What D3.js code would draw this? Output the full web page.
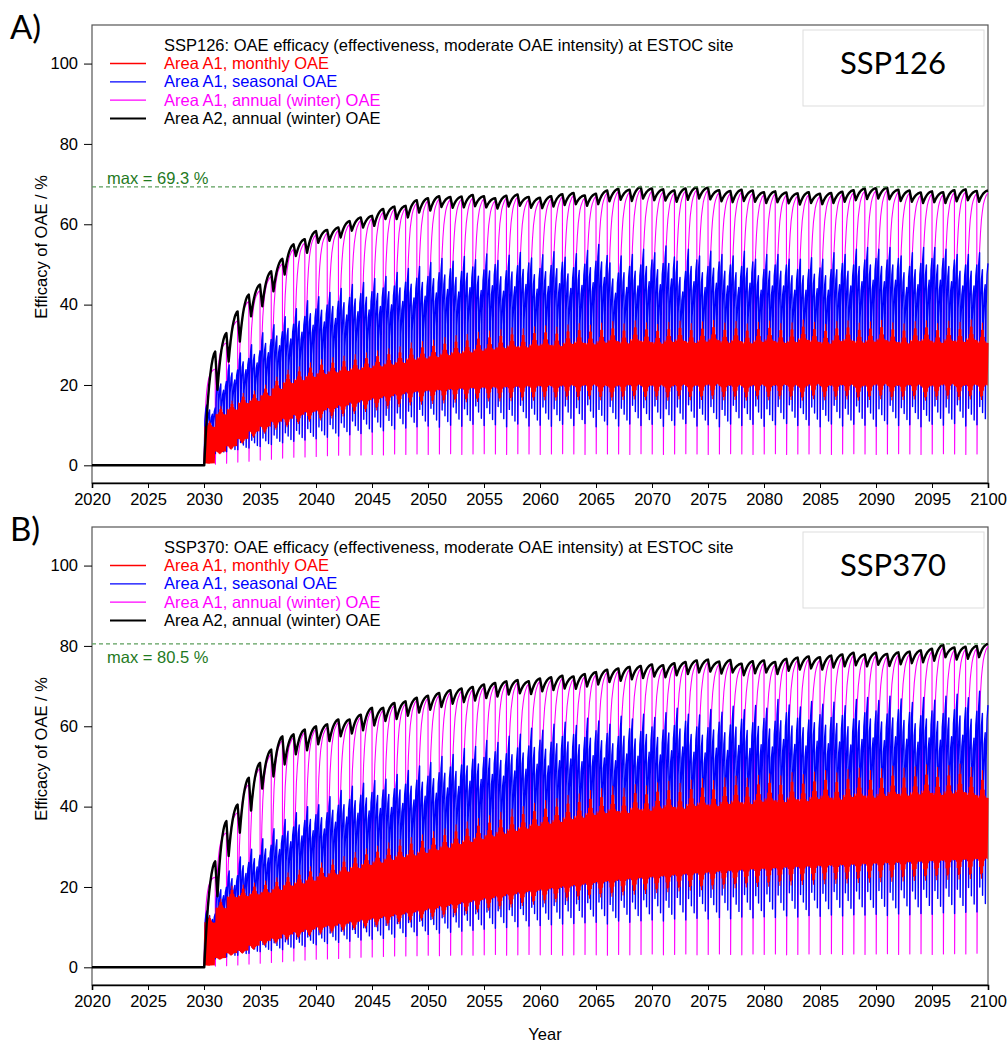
<!DOCTYPE html>
<html>
<head>
<meta charset="utf-8">
<script src="https://cdn.jsdelivr.net/npm/d3@7"></script>
<style>
  body { margin: 0; background: #fff; }
  text { font-family: "Liberation Sans", Arial, sans-serif; }
</style>
</head>
<body>
<svg id="chart" width="1007" height="1043"></svg>
<script>
// ---- data ----
const FIRST_CYCLE = 2030; // first OAE application, one entry per year 2030..2099 below
const X_TICKS = [2020, 2025, 2030, 2035, 2040, 2045, 2050, 2055, 2060, 2065, 2070, 2075, 2080, 2085, 2090, 2095, 2100];
const Y_TICKS = [0, 20, 40, 60, 80, 100];

const LEGEND_LABELS = ["Area A1, monthly OAE", "Area A1, seasonal OAE", "Area A1, annual (winter) OAE", "Area A2, annual (winter) OAE"];
const TITLES = [
  "SSP126: OAE efficacy (effectiveness, moderate OAE intensity) at ESTOC site",
  "SSP370: OAE efficacy (effectiveness, moderate OAE intensity) at ESTOC site",
];
const SCENARIOS = ["SSP126", "SSP370"];
const PANEL_TAGS = ["A)", "B)"];
const MAX_VALUES = [69.3, 80.5];

// shape of one cycle (fraction of trough -> peak reached, per month after an addition)
const RISE = [0, 0.45, 0.66, 0.78, 0.85, 0.9, 0.93, 0.955, 0.97, 0.98, 0.99, 0.995, 1];
// area A2 recovers more slowly, after a short decline
const A2_RISE = [0, 0.22, 0.41, 0.57, 0.7, 0.8, 0.88, 0.94, 0.98, 1];
const Q_RISE = [0, 0.72, 0.93, 1];
// seasonal OAE: 4 additions per year, relative top / bottom of each quarter
const BLUE_Q_TOP = [1, 0.92, 0.85, 0.95];
const BLUE_Q_BOT = [1, 1.45, 1.3, 1.15];
// monthly OAE: relative top / bottom of the band through the year
const RED_M_TOP = [0.87, 0.86, 0.87, 0.9, 0.95, 1, 0.95, 0.9, 0.87, 0.86, 0.86, 0.86];
const RED_M_BOT = [1.22, 1.22, 1.2, 1.13, 1.05, 1, 1.06, 1.14, 1.2, 1.22, 1.23, 1.22];

// ---- SSP126 ----
const A2_PEAK_126 = [28.3,32.9,38.3,42.5,45.0,48.3,51.4,55.0,56.3,58.3,58.6,59.2,60.8,61.7,62.1,63.8,64.4,64.6,66.0,66.5,67.0,66.8,66.9,67.3,67.0,66.5,67.1,67.4,66.8,66.6,67.0,67.5,67.8,67.2,67.6,68.4,68.8,68.6,69.3,68.9,68.7,68.4,68.9,69.2,69.1,68.5,68.3,68.6,68.4,68.0,68.2,67.9,67.7,68.0,67.6,67.8,68.1,68.5,68.9,69.0,69.1,68.6,68.4,67.9,68.2,68.0,68.5,68.7,68.3,68.4];
const A2_LOW_126 = [0,18.8,25.8,30.8,37.1,39.6,43.3,47.5,52.1,52.9,55.4,55.9,56.7,58.4,59.2,59.6,61.3,61.3,61.7,62.9,63.4,64.3,64.1,64.2,64.5,64.2,63.9,64.4,64.6,64.1,64.0,64.4,64.8,65.0,64.6,65.0,65.7,66.1,65.8,66.4,66.0,65.9,65.6,66.1,66.4,66.2,65.7,65.5,65.8,65.6,65.3,65.5,65.2,64.9,65.3,65.0,65.3,65.6,66.0,66.3,66.4,66.2,65.8,65.6,65.3,65.5,65.3,65.7,66.0,65.6];
const ANN_PEAK_126 = [24.0,30.5,36.0,40.8,43.5,47.0,50.2,53.8,55.4,57.4,57.8,58.5,60.0,61.0,61.5,63.0,63.8,64.0,65.3,65.9,66.3,66.2,66.3,66.6,66.4,65.9,66.5,66.8,66.2,66.0,66.4,66.9,67.2,66.6,67.0,67.8,68.2,68.0,68.7,68.3,68.1,67.8,68.3,68.6,68.5,67.9,67.7,68.0,67.8,67.4,67.6,67.3,67.1,67.4,67.0,67.2,67.5,67.9,68.3,68.4,68.5,68.0,67.8,67.3,67.6,67.4,67.9,68.1,67.7,67.8];
const ANN_LOW_126 = [0,0.3,0.5,0.8,1.0,1.3,1.5,1.8,2.0,2.1,2.2,2.4,2.5,2.5,2.6,2.7,2.6,2.8,2.7,2.8,2.7,2.8,2.9,2.7,2.8,2.9,2.8,2.7,2.9,2.8,2.7,2.8,2.9,2.8,2.7,2.9,2.8,2.8,2.7,2.9,2.8,2.7,2.8,2.9,2.8,2.7,2.8,2.9,2.8,2.7,2.8,2.9,2.7,2.8,2.8,2.9,2.7,2.8,2.9,2.8,2.7,2.8,2.9,2.8,2.7,2.8,2.9,2.8,2.7,2.8];
const SEAS_HI_126 = [15,22,25,28,30,33,35,37,39,41,42,43,44,45,45.5,46.5,47,48,49,49.5,50.5,51.5,50.8,52.0,51.2,52.6,51.0,52.3,53.0,51.6,52.4,53.2,51.8,52.7,53.5,55.0,50.4,52.1,52.5,53.8,52.9,54.6,50.8,53.8,52.1,53.3,52.5,52.1,53.3,51.3,52.5,52.5,51.3,51.3,51.7,51.3,52.9,52.5,53.8,54.2,53.8,54.2,52.1,52.9,54.2,54.2,53.8,52.5,52.5,52.9];
const SEAS_LO_126 = [1.5,2.9,3.4,3.9,4.3,4.7,5.2,5.6,6.0,6.3,6.6,7.0,7.3,7.6,7.9,8.3,8.6,9.0,9.3,9.6,9.8,9.5,10.0,9.7,10.2,9.9,10.1,9.6,10.3,9.8,10.0,9.7,10.2,9.9,10.4,9.6,10.1,9.8,10.3,9.9,10.2,9.7,10.0,10.4,9.8,10.1,9.6,10.3,9.9,10.2,9.7,10.1,10.4,9.9,10.0,9.6,10.3,9.8,10.2,10.0,9.7,10.3,9.9,10.1,9.6,10.2,10.0,10.4,9.8,10.1];
const MON_HI_126 = [11,14.6,16,17.9,18.5,20,22,23.7,24.5,25.5,26.3,26.8,27.2,27.6,28.0,28.5,29,29.5,30.5,30.8,31.2,31.8,32.3,32.6,33.1,33.4,33.8,34.2,34.0,34.5,34.7,34.4,35.0,35.3,34.9,35.4,35.8,35.2,36.0,35.5,35.1,35.6,35.9,35.3,35.7,36.1,35.4,35.8,35.2,35.6,35.9,35.3,35.5,36.2,35.6,35.1,35.8,36.0,35.4,35.7,36.1,35.5,35.2,35.8,36.0,35.3,35.9,35.6,36.2,35.4];
const MON_LO_126 = [0.5,2.9,4.0,5.5,7.0,8.0,9.0,9.6,10.4,11.0,11.3,11.8,12.3,12.9,13.4,13.8,14.2,14.6,15.0,15.2,15.4,15.5,15.7,15.8,15.9,16.0,16.0,16.1,16.2,16.2,16.3,16.2,16.4,16.3,16.5,16.3,16.2,16.4,16.5,16.3,16.4,16.2,16.5,16.3,16.4,16.6,16.3,16.4,16.2,16.5,16.3,16.5,16.4,16.2,16.6,16.3,16.4,16.5,16.2,16.4,16.6,16.3,16.4,16.5,16.2,16.4,16.6,16.3,16.5,16.4];

// ---- SSP370 ----
const A2_PEAK_370 = [26.4,36.4,40.5,47.2,50.9,54.2,57.5,58.0,59.2,60.0,60.5,61.7,61.7,62.9,64.6,64.6,65.8,66.2,67.1,67.6,68.3,69.0,69.4,69.8,70.4,70.8,71.2,71.5,71.2,71.9,72.2,72.6,72.4,73.0,73.5,74.1,74.4,74.8,75.0,75.4,75.2,75.7,76.0,76.4,76.6,76.1,76.5,75.6,76.2,76.4,76.0,76.8,77.1,77.4,77.2,77.6,77.9,78.3,77.9,78.3,78.0,78.4,78.6,78.9,79.3,80.3,79.6,79.8,80.0,80.5];
const A2_LOW_370 = [0,17.7,27.7,33.5,39.0,44.5,47.5,50.5,53.0,54.0,55.5,56.3,57.5,58.2,59.0,60.2,61.3,61.8,62.6,63.4,64.1,64.8,65.6,66.0,66.4,67.0,67.4,67.9,68.2,68.0,68.7,69.0,69.4,69.3,69.9,70.4,71.0,71.3,71.7,72.0,72.4,72.2,72.7,73.0,73.4,73.6,73.1,73.4,72.7,73.2,73.4,73.0,73.8,74.1,74.4,74.1,74.6,74.9,75.2,74.9,75.3,75.0,75.4,75.7,75.9,76.3,77.2,76.6,76.8,77.2];
const ANN_PEAK_370 = [22.5,33.5,38.5,45.5,49.5,53.0,56.5,57.2,58.5,59.3,59.8,61.0,61.1,62.3,64.0,64.0,65.2,65.6,66.5,67.0,67.7,68.4,68.8,69.2,69.8,70.2,70.6,70.9,70.6,71.3,71.6,72.0,71.8,72.4,72.9,73.5,73.8,74.2,74.4,74.8,74.6,75.1,75.4,75.8,76.0,75.5,75.9,75.0,75.6,75.8,75.4,76.2,76.5,76.8,76.6,77.0,77.3,77.7,77.3,77.7,77.4,77.8,78.0,78.3,78.7,79.7,79.0,79.2,79.4,79.9];
const ANN_LOW_370 = [0,0.3,0.4,0.6,0.8,1.0,1.2,1.4,1.6,1.8,2.0,2.1,2.2,2.4,2.5,2.6,2.7,2.8,2.8,2.9,3.0,2.9,3.0,3.1,3.0,3.1,3.2,3.0,3.1,3.2,3.1,3.2,3.0,3.1,3.2,3.1,3.0,3.2,3.1,3.2,3.3,3.1,3.2,3.3,3.1,3.2,3.3,3.2,3.1,3.3,3.2,3.3,3.1,3.2,3.3,3.2,3.4,3.2,3.3,3.2,3.3,3.4,3.2,3.3,3.4,3.2,3.3,3.4,3.3,3.5];
const SEAS_HI_370 = [14,21,24,27.5,29.4,32,34.5,36.8,38.5,40,40.5,42.5,44,45.1,45.8,46.5,46.8,48,49,50.1,51,52.5,53,54.5,55,56.5,56,57.5,58,59.5,59,60.5,61,60.2,62,61.3,60.5,62.5,61.8,63,62.2,63.4,64.5,63,62.8,64.2,63.5,65,64.1,65.2,64.5,66.7,65.3,64.8,66.2,65.5,66.0,65.1,66.7,67.2,66.4,67.5,66.8,65.9,67.2,66.5,67.5,68.0,67.1,68.7];
const SEAS_LO_370 = [1.0,2.1,2.6,3.0,3.5,3.9,4.2,4.4,4.8,5.2,5.6,5.9,6.2,6.5,6.8,7.0,7.2,7.5,7.7,7.9,8.2,8.5,8.7,9.0,9.2,9.5,9.7,9.9,10.1,10.3,10.4,10.6,10.8,10.9,11.1,11.2,10.8,11.5,11.2,11.6,11.8,11.5,12.0,11.8,12.2,12.0,12.4,12.1,12.5,12.3,12.6,12.4,12.8,12.5,12.9,12.7,13.0,12.8,13.1,13.0,13.2,12.9,13.3,13.1,13.4,13.2,13.6,13.4,13.7,13.8];
const MON_HI_370 = [12.8,17,20.2,20.5,21,21.5,22.3,23.5,24.2,25,26,26.8,27.6,28.6,29.5,30.2,31,31.8,32.3,33,33.8,34.5,35.5,36.2,37,37.8,38.6,39.4,40,40.8,41.5,42,42.8,43.2,44,44.5,45.1,44.6,45.5,45.2,45.9,46.3,45.8,46.6,47,46.5,47.2,47.6,47.1,47.8,48.2,47.7,48.5,48.0,48.6,49.0,48.4,49.2,49.6,49.0,49.5,50.1,49.6,49.9,50.4,49.8,50.2,50.6,49.8,49.0];
const MON_LO_370 = [0.5,2.0,3.0,3.5,4.5,5.5,6.0,6.8,7.3,7.8,8.3,8.6,9.0,9.4,9.8,10.1,10.5,10.9,11.3,11.7,12.1,12.6,13.0,13.4,13.8,14.2,14.6,15.0,15.4,15.7,16.0,16.3,16.6,16.9,17.2,17.5,17.7,18.0,18.2,18.4,18.6,18.8,19.0,19.2,19.3,19.5,19.7,19.8,20.0,20.1,20.2,20.4,20.5,20.6,20.7,20.8,20.9,21.0,21.1,21.2,21.3,21.4,21.5,21.6,21.7,21.8,21.9,22.0,22.1,22.2];

// ---- layout ----
const COLORS = ["#ff0000", "#0000ff", "#ff00ff", "#000000"];
const LEFT = 92, RIGHT = 988;
const PANEL_TOP = [25, 527];
const PANEL_H = 458;
const A2_DECLINE = 0.2; // years from peak down to trough for area A2
const FONT = "16.5px";

const svg = d3.select("#chart");

// one value per cycle -> points of a line that drops at each addition and recovers
const annualSeries = (peaks, lows) => {
  const pts = [[2020, 0], [FIRST_CYCLE, 0]];
  peaks.forEach((hi, i) => {
    const c = FIRST_CYCLE + i, lo = lows[i];
    RISE.forEach((f, k) => pts.push([c + (k === 0 ? 0.02 : k / 12), lo + (hi - lo) * f]));
  });
  return pts;
};

const a2Series = (peaks, lows) => {
  const pts = [[2020, 0], [FIRST_CYCLE, 0]];
  peaks.forEach((hi, i) => {
    const c = FIRST_CYCLE + i, lo = lows[i];
    const t0 = c + (i === 0 ? 0.02 : A2_DECLINE);
    const step = (c + 1 - t0) / (A2_RISE.length - 1);
    A2_RISE.forEach((f, k) => pts.push([t0 + k * step, lo + (hi - lo) * f]));
  });
  return pts;
};

const seasonalSeries = (his, los) => {
  const pts = [[2020, 0], [FIRST_CYCLE, 0]];
  his.forEach((hi, i) => {
    const c = FIRST_CYCLE + i;
    BLUE_Q_TOP.forEach((ft, q) => {
      const top = hi * ft, bot = los[i] * BLUE_Q_BOT[q], t0 = c + q / 4;
      Q_RISE.forEach((f, k) => pts.push([t0 + (k === 0 ? 0.015 : k / 12), bot + (top - bot) * f]));
    });
  });
  return pts;
};

const monthlySeries = (his, los) => {
  const pts = [[2020, 0], [FIRST_CYCLE, 0]];
  his.forEach((hi, i) => {
    const c = FIRST_CYCLE + i;
    RED_M_TOP.forEach((ft, m) => {
      const t0 = c + m / 12;
      pts.push([t0 + 0.004, los[i] * RED_M_BOT[m]]);
      pts.push([t0 + 1 / 12, hi * ft]);
    });
  });
  return pts;
};

const PANELS = [
  {
    mon: monthlySeries(MON_HI_126, MON_LO_126),
    seas: seasonalSeries(SEAS_HI_126, SEAS_LO_126),
    ann: annualSeries(ANN_PEAK_126, ANN_LOW_126),
    a2: a2Series(A2_PEAK_126, A2_LOW_126),
    maxBelow: false,
  },
  {
    mon: monthlySeries(MON_HI_370, MON_LO_370),
    seas: seasonalSeries(SEAS_HI_370, SEAS_LO_370),
    ann: annualSeries(ANN_PEAK_370, ANN_LOW_370),
    a2: a2Series(A2_PEAK_370, A2_LOW_370),
    maxBelow: true,
  },
];

PANELS.forEach((p, idx) => {
  const top = PANEL_TOP[idx];
  const bottom = top + PANEL_H;
  const x = d3.scaleLinear().domain([2020, 2100]).range([LEFT, RIGHT]);
  const y = d3.scaleLinear().domain([-4.4, 109.6]).range([bottom, top]);
  const g = svg.append("g");

  // frame
  g.append("rect")
    .attr("x", LEFT).attr("y", top)
    .attr("width", RIGHT - LEFT).attr("height", PANEL_H)
    .attr("fill", "none").attr("stroke", "#555").attr("stroke-width", 1.2);

  const line = d3.line().x((d) => x(d[0])).y((d) => y(d[1]));
  const series = [
    { data: p.ann, color: COLORS[2], w: 1.1 },
    { data: p.seas, color: COLORS[1], w: 1.4 },
    { data: p.mon, color: COLORS[0], w: 1.1 },
    { data: p.a2, color: COLORS[3], w: 2.4 },
  ];
  series.forEach((s) =>
    g.append("path")
      .datum(s.data)
      .attr("fill", "none")
      .attr("stroke", s.color)
      .attr("stroke-width", s.w)
      .attr("stroke-linejoin", "round")
      .attr("d", line)
  );

  // max line
  const maxV = MAX_VALUES[idx];
  g.append("line")
    .attr("x1", LEFT).attr("x2", RIGHT)
    .attr("y1", y(maxV)).attr("y2", y(maxV))
    .attr("stroke", "#5c9e5c").attr("stroke-width", 1.1)
    .attr("stroke-dasharray", "4,3");
  g.append("text")
    .attr("x", 107)
    .attr("y", p.maxBelow ? y(maxV) + 19 : y(maxV) - 3)
    .attr("fill", "#1f7a1f")
    .style("font-size", FONT)
    .text(`max = ${maxV} %`);

  // axes
  g.append("g")
    .attr("transform", `translate(0,${bottom})`)
    .call(d3.axisBottom(x).tickValues(X_TICKS).tickFormat(d3.format("d")).tickSize(5).tickPadding(5))
    .call((a) => a.select(".domain").attr("stroke", "#000").attr("stroke-width", 1.6))
    .call((a) => a.selectAll("text").style("font-size", FONT).attr("fill", "#000"));

  g.append("g")
    .attr("transform", `translate(${LEFT},0)`)
    .call(d3.axisLeft(y).tickValues(Y_TICKS).tickSize(8).tickPadding(6))
    .call((a) => a.select(".domain").remove())
    .call((a) => a.selectAll("text").style("font-size", FONT).attr("fill", "#000"));

  g.append("text")
    .attr("transform", `translate(47,${top + 222}) rotate(-90)`)
    .attr("text-anchor", "middle")
    .style("font-size", FONT)
    .text("Efficacy of OAE / %");

  // legend
  g.append("text")
    .attr("x", 164).attr("y", top + 26)
    .style("font-size", FONT)
    .text(TITLES[idx]);
  LEGEND_LABELS.forEach((lab, i) => {
    const ly = top + 38.5 + i * 18.3;
    g.append("line")
      .attr("x1", 110).attr("x2", 146).attr("y1", ly).attr("y2", ly)
      .attr("stroke", COLORS[i]).attr("stroke-width", i === 3 ? 2 : 1.3);
    g.append("text")
      .attr("x", 164).attr("y", ly + 5.5)
      .attr("fill", COLORS[i])
      .style("font-size", FONT)
      .text(lab);
  });

  // scenario box
  g.append("rect")
    .attr("x", 803).attr("y", top + 5)
    .attr("width", 181).attr("height", 76)
    .attr("fill", "#fff").attr("stroke", "#ddd").attr("stroke-width", 1);
  g.append("text")
    .attr("x", 893).attr("y", top + 49)
    .attr("text-anchor", "middle")
    .style("font-family", "Lato, 'Open Sans', sans-serif")
    .style("font-size", "31px")
    .text(SCENARIOS[idx]);

  // panel tag
  svg.append("text")
    .attr("x", 10).attr("y", top + 14)
    .style("font-family", "Lato, 'Open Sans', sans-serif")
    .style("font-size", "33px")
    .text(PANEL_TAGS[idx]);
});

svg.append("text")
  .attr("x", 545).attr("y", 1040)
  .attr("text-anchor", "middle")
  .style("font-size", FONT)
  .text("Year");
</script>
</body>
</html>
